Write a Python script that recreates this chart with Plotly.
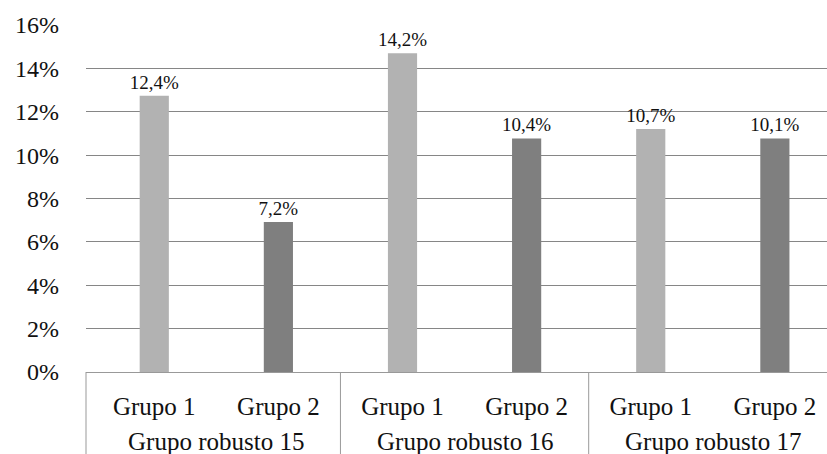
import plotly.graph_objects as go

# Data
groups = ["Grupo robusto 15", "Grupo robusto 15",
          "Grupo robusto 16", "Grupo robusto 16",
          "Grupo robusto 17", "Grupo robusto 17"]
subgroups = ["Grupo 1", "Grupo 2", "Grupo 1", "Grupo 2", "Grupo 1", "Grupo 2"]
bar_values = [12.74, 6.92, 14.7, 10.77, 11.2, 10.77]   # bar heights (%) as drawn
label_texts = ["12,4%", "7,2%", "14,2%", "10,4%", "10,7%", "10,1%"]
y_tick_values = [0, 2, 4, 6, 8, 10, 12, 14, 16]
y_tick_labels = ["0%", "2%", "4%", "6%", "8%", "10%", "12%", "14%", "16%"]

sub_colors = {"Grupo 1": "#b2b2b2", "Grupo 2": "#7f7f7f"}
bar_colors = [sub_colors[s] for s in subgroups]

FONT = "Liberation Serif"
LINE_GREY = "#999999"

# unique category keys (group + subgroup) for a plain category axis
cat_keys = [f"{g} | {s}" for g, s in zip(groups, subgroups)]

fig = go.Figure(
    go.Bar(
        x=cat_keys,
        y=bar_values,
        width=0.235,
        marker=dict(color=bar_colors, line=dict(width=0)),
        text=label_texts,
        textposition="outside",
        constraintext="none",
        textfont=dict(family=FONT, size=19, color="#111111"),
        cliponaxis=False,
        hoverinfo="skip",
    )
)

# group labels (second row) and group dividers, placed on the category scale
unique_groups = list(dict.fromkeys(groups))
annotations = []
shapes = []
for gi, g in enumerate(unique_groups):
    idx = [i for i, gg in enumerate(groups) if gg == g]
    center = sum(idx) / len(idx)
    annotations.append(dict(
        x=center, xref="x", y=0, yref="paper", yshift=-69,
        text=g, showarrow=False, xanchor="center", yanchor="middle",
        font=dict(family=FONT, size=25, color="#111111"),
    ))
    if gi == 0:
        shapes.append(dict(type="line", xref="paper", x0=0, x1=0,
                           yref="paper", y0=0, y1=-0.25,
                           line=dict(color=LINE_GREY, width=1)))
    else:
        bx = min(idx) - 0.5
        shapes.append(dict(type="line", xref="x", x0=bx, x1=bx,
                           yref="paper", y0=0, y1=-0.25,
                           line=dict(color=LINE_GREY, width=1)))

fig.update_layout(
    width=827,
    height=454,
    margin=dict(l=86, r=0, t=25, b=82, autoexpand=False),
    paper_bgcolor="white",
    plot_bgcolor="white",
    showlegend=False,
    font=dict(family=FONT, size=24, color="#111111"),
    uniformtext=dict(mode=False),
    annotations=annotations,
    shapes=shapes,
)

fig.update_yaxes(
    range=[0, 16],
    tickvals=y_tick_values,
    ticktext=y_tick_labels,
    showgrid=True,
    gridcolor="#868686",
    gridwidth=1,
    zeroline=False,
    showline=False,
    ticks="",
    ticklabelstandoff=26,
    tickfont=dict(family=FONT, size=24, color="#111111"),
    automargin=False,
)

fig.update_xaxes(
    type="category",
    categoryorder="array",
    categoryarray=cat_keys,
    tickvals=cat_keys,
    ticktext=subgroups,
    range=[-0.55, 5.42],
    showline=True,
    linecolor=LINE_GREY,
    linewidth=1,
    showgrid=False,
    ticks="",
    ticklabelstandoff=12,
    tickfont=dict(family=FONT, size=25, color="#111111"),
    automargin=False,
)

fig.write_html(
    "out.html",
    config={"displayModeBar": False},
    post_script="document.body.style.margin='0';",
)
